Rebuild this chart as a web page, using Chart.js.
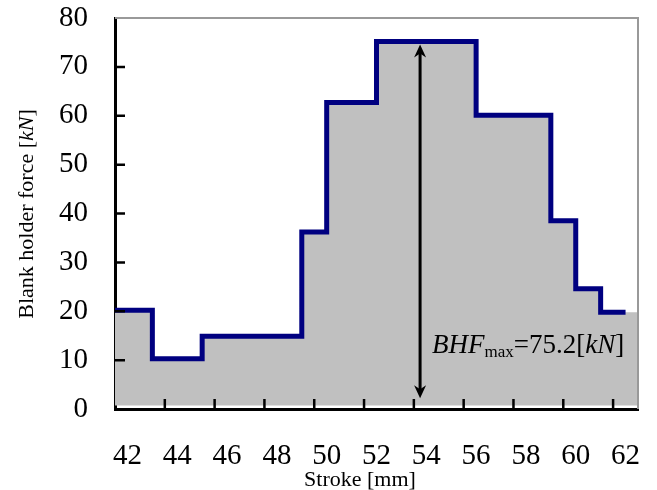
<!DOCTYPE html>
<html>
<head>
    <meta charset="UTF-8">
    <title>Blank holder force</title>
    <script src="https://cdn.jsdelivr.net/npm/chart.js@4/dist/chart.umd.min.js"></script>
    <style>
      body { margin: 0; background: #fff; }
    </style>
</head>
<body>
    <canvas id="myChart" width="657" height="490"></canvas>

  <script>
      // step profile
      const stroke = [41.5, 43, 45, 49, 50, 52, 56, 59, 60, 61, 62];
      const force = [20.2, 10.3, 14.9, 36.2, 62.7, 75.2, 60.1, 38.5, 24.6, 19.8, 19.8];
      // grey area behind the line runs to the right edge
      const shadeStroke = [41.5, 43, 45, 49, 50, 52, 56, 59, 60, 61, 62.5];

      const xLabels = [42, 44, 46, 48, 50, 52, 54, 56, 58, 60, 62];
      const xMarks = [43.5, 45.5, 47.5, 49.5, 51.5, 53.5, 55.5, 57.5, 59.5, 61.5];
      const yMarks = [10, 20, 30, 40, 50, 60, 70];

      const peakX = 53.75;
      const arrowFrom = 2.2;
      const arrowTo = 74.6;
      const noteAt = [54.23, 11.5];

      const serif = '"Liberation Serif", "Times New Roman", serif';

      const extras = {
          id: 'extras',
          afterDatasetsDraw(chart) {
              const ctx = chart.ctx;
              const xs = chart.scales.x, ys = chart.scales.y;
              const a = chart.chartArea;
              ctx.save();

              // top and right frame
              ctx.strokeStyle = '#999';
              ctx.lineWidth = 2;
              ctx.beginPath();
              ctx.moveTo(a.left, a.top);
              ctx.lineTo(a.right, a.top);
              ctx.lineTo(a.right, a.bottom);
              ctx.stroke();

              // inward tick marks
              ctx.strokeStyle = '#000';
              ctx.lineWidth = 2.5;
              ctx.beginPath();
              xMarks.forEach(v => {
                  const px = xs.getPixelForValue(v);
                  ctx.moveTo(px, a.bottom);
                  ctx.lineTo(px, a.bottom - 10);
              });
              yMarks.forEach(v => {
                  const py = ys.getPixelForValue(v);
                  ctx.moveTo(a.left, py);
                  ctx.lineTo(a.left + 10, py);
              });
              ctx.stroke();

              // double arrow
              const ax = xs.getPixelForValue(peakX);
              const top = ys.getPixelForValue(arrowTo);
              const bot = ys.getPixelForValue(arrowFrom);
              ctx.lineWidth = 3;
              ctx.beginPath();
              ctx.moveTo(ax, top + 8);
              ctx.lineTo(ax, bot - 8);
              ctx.stroke();
              ctx.fillStyle = '#000';
              ctx.beginPath();
              ctx.moveTo(ax, top);
              ctx.lineTo(ax + 6, top + 13);
              ctx.lineTo(ax, top + 9);
              ctx.lineTo(ax - 6, top + 13);
              ctx.closePath();
              ctx.fill();
              ctx.beginPath();
              ctx.moveTo(ax, bot);
              ctx.lineTo(ax + 6, bot - 13);
              ctx.lineTo(ax, bot - 9);
              ctx.lineTo(ax - 6, bot - 13);
              ctx.closePath();
              ctx.fill();

              // BHFmax annotation
              let tx = xs.getPixelForValue(noteAt[0]);
              const ty = ys.getPixelForValue(noteAt[1]);
              const parts = [
                  ['BHF', 'italic 27px ' + serif, 0],
                  ['max', '17px ' + serif, 4],
                  ['=75.2[', '27px ' + serif, 0],
                  ['kN', 'italic 27px ' + serif, 0],
                  [']', '27px ' + serif, 0]
              ];
              ctx.textBaseline = 'alphabetic';
              ctx.textAlign = 'left';
              parts.forEach(p => {
                  ctx.font = p[1];
                  ctx.fillText(p[0], tx, ty + p[2]);
                  tx += ctx.measureText(p[0]).width;
              });

              // axis titles
              const ytitle = [
                  ['Blank holder force [', '22px ' + serif],
                  ['kN', 'italic 22px ' + serif],
                  [']', '22px ' + serif]
              ];
              let w = 0;
              ytitle.forEach(p => { ctx.font = p[1]; w += ctx.measureText(p[0]).width; });
              ctx.save();
              ctx.translate(33, 214);
              ctx.rotate(-Math.PI / 2);
              let ox = -w / 2;
              ytitle.forEach(p => {
                  ctx.font = p[1];
                  ctx.fillText(p[0], ox, 0);
                  ox += ctx.measureText(p[0]).width;
              });
              ctx.restore();

              ctx.font = '22px ' + serif;
              ctx.textAlign = 'center';
              ctx.fillText('Stroke [mm]', 360, 486);

              ctx.restore();
          }
      };

      const ctx = document.getElementById('myChart').getContext('2d');
      const myChart = new Chart(ctx, {
          type: 'line',
          data: {
              datasets: [{
                  label: 'BHF',
                  data: stroke.map((s, i) => ({ x: s, y: force[i] })),
                  stepped: true,
                  borderColor: '#000080',
                  borderWidth: 5,
                  borderJoinStyle: 'miter',
                  pointRadius: 0,
                  fill: false,
                  order: 1
              }, {
                  label: 'area',
                  data: shadeStroke.map((s, i) => ({ x: s, y: force[i] })),
                  stepped: true,
                  borderWidth: 0,
                  backgroundColor: '#c0c0c0',
                  pointRadius: 0,
                  fill: { value: 0.7 },
                  order: 2
              }]
          },
          options: {
              responsive: false,
              animation: false,
              layout: { padding: { top: 18, right: 19, left: 0, bottom: 0 } },
              plugins: {
                  legend: { display: false },
                  tooltip: { enabled: false }
              },
              scales: {
                  x: {
                      type: 'linear',
                      min: 41.5,
                      max: 62.5,
                      afterBuildTicks: s => { s.ticks = xLabels.map(v => ({ value: v })); },
                      afterFit: s => {
                          s.height = 81;
                          s.paddingLeft = 0;
                          s.paddingRight = 0;
                      },
                      grid: { display: false, drawTicks: false },
                      border: { color: '#000', width: 3 },
                      ticks: {
                          padding: 30,
                          maxRotation: 0,
                          autoSkip: false,
                          color: '#000',
                          font: { family: serif, size: 29 }
                      }
                  },
                  y: {
                      min: 0,
                      max: 80,
                      afterFit: s => {
                          s.width = 115;
                          s.paddingTop = 0;
                          s.paddingBottom = 0;
                      },
                      grid: { display: false, drawTicks: false },
                      border: { color: '#000', width: 3 },
                      ticks: {
                          stepSize: 10,
                          padding: 27,
                          color: '#000',
                          font: { family: serif, size: 29 }
                      }
                  }
              }
          },
          plugins: [extras]
      });
  </script>

</body>
</html>
